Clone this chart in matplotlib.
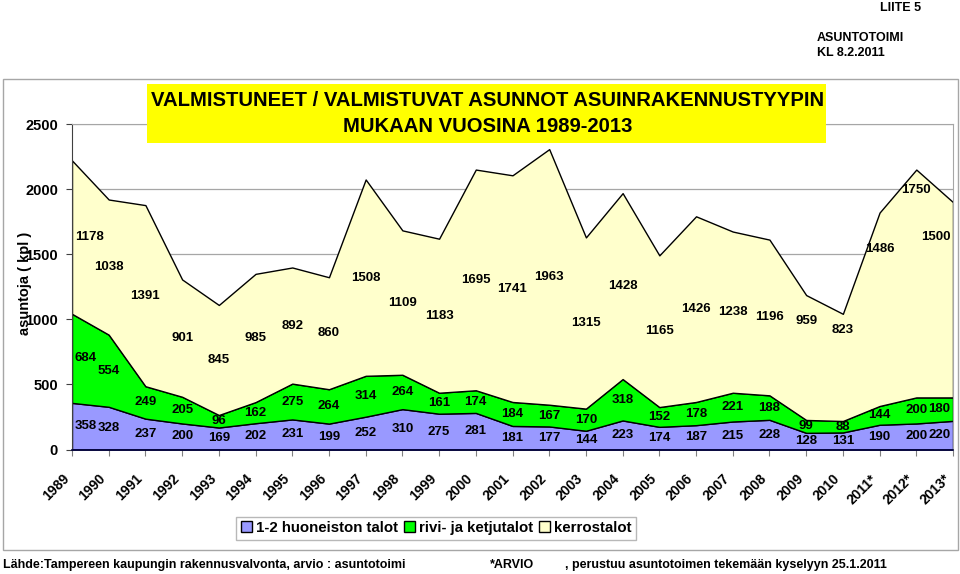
import matplotlib
matplotlib.use("Agg")
import matplotlib.pyplot as plt
from matplotlib.patches import Rectangle, Patch
from matplotlib.transforms import ScaledTranslation
import numpy as np

plt.rcParams['font.family'] = ['Liberation Sans', 'DejaVu Sans']
plt.rcParams['font.weight'] = 'bold'

years = ["1989", "1990", "1991", "1992", "1993", "1994", "1995", "1996", "1997",
         "1998", "1999", "2000", "2001", "2002", "2003", "2004", "2005", "2006",
         "2007", "2008", "2009", "2010", "2011*", "2012*", "2013*"]
omakoti = [358, 328, 237, 200, 169, 202, 231, 199, 252, 310, 275, 281, 181, 177,
           144, 223, 174, 187, 215, 228, 128, 131, 190, 200, 220]
rivi = [684, 554, 249, 205, 96, 162, 275, 264, 314, 264, 161, 174, 184, 167,
        170, 318, 152, 178, 221, 188, 99, 88, 144, 200, 180]
kerros = [1178, 1038, 1391, 901, 845, 985, 892, 860, 1508, 1109, 1183, 1695, 1741,
          1963, 1315, 1428, 1165, 1426, 1238, 1196, 959, 823, 1486, 1750, 1500]
series_names = ["1-2 huoneiston talot", "rivi- ja ketjutalot", "kerrostalot"]
colors = ["#9999ff", "#00ff00", "#ffffcc"]

# label positions that were moved by hand in the original (data units)
top_label_override = {20: 987, 21: 918, 22: 1540, 23: 1993, 24: 1634}

W, H = 960, 574
fig = plt.figure(figsize=(W / 100, H / 100), dpi=100)

def fx(px):
    return px / W

def fy(py):
    return 1 - py / H

ax = fig.add_axes([fx(72), fy(449.5), fx(953) - fx(72), fy(124) - fy(449.5)])
x = np.arange(len(years))
data = [omakoti, rivi, kerros]
ax.stackplot(x, *data, colors=colors, edgecolor="black", linewidth=1.0, zorder=2)
ax.set_xlim(0, len(years) - 1)
ax.set_ylim(0, 2500)
ax.set_yticks(np.arange(0, 2501, 500))
ax.yaxis.grid(True, color="#a6a6a6", linewidth=0.9, zorder=0)
ax.set_axisbelow(True)
for s in ["top", "right"]:
    ax.spines[s].set_color("#a6a6a6")
ax.spines["left"].set_color("#404040")
ax.spines["bottom"].set_color("#000040")
ax.spines["bottom"].set_linewidth(1.2)
ax.spines["bottom"].set_zorder(3)

ax.tick_params(axis="y", direction="out", length=4, color="#404040",
               labelsize=10.5, pad=6)
ax.tick_params(axis="x", direction="out", length=4, color="#808080",
               labelsize=10, pad=12)
ax.set_xticks(x)
ax.set_xticklabels(years, rotation=45, ha="right", va="top",
                   rotation_mode="anchor", fontweight="bold")
shift = ScaledTranslation(-10 / 100, 0, fig.dpi_scale_trans)
for lab in ax.get_xticklabels():
    lab.set_transform(lab.get_transform() + shift)
for lab in ax.get_yticklabels():
    lab.set_fontweight("bold")

# data labels
cum = np.zeros(len(years))
for si, vals in enumerate(data):
    vals = np.array(vals, dtype=float)
    for i, v in enumerate(vals):
        ymid = cum[i] + v / 2
        if si == 2 and i in top_label_override:
            ymid = top_label_override[i]
        if i == 0:
            ha, dx = "left", 2
        elif i == len(years) - 1:
            ha, dx = "right", -2
        else:
            ha, dx = "center", 0
        ax.annotate(f"{int(v)}", (i, ymid), xytext=(dx, 0),
                    textcoords="offset points", ha=ha, va="center",
                    fontsize=9.5, fontweight="bold", zorder=5)
    cum += vals

# outer chart frame
fig.patches.append(Rectangle((fx(3), fy(550)), fx(958) - fx(3), fy(79) - fy(550),
                             transform=fig.transFigure, fill=False,
                             edgecolor="#a6a6a6", linewidth=1.0, zorder=-1))
# title box
fig.patches.append(Rectangle((fx(147), fy(143)), fx(826) - fx(147), fy(84) - fy(143),
                             transform=fig.transFigure, facecolor="#ffff00",
                             edgecolor="none", zorder=5))
fig.text(fx(488), fy(101), "VALMISTUNEET / VALMISTUVAT ASUNNOT ASUINRAKENNUSTYYPIN",
         ha="center", va="center", fontsize=14.6, fontweight="bold", zorder=6)
fig.text(fx(488), fy(127), "MUKAAN VUOSINA 1989-2013",
         ha="center", va="center", fontsize=14.6, fontweight="bold", zorder=6)

fig.text(fx(25), fy(283), "asuntoja ( kpl )", rotation=90, ha="center", va="center",
         fontsize=10.5, fontweight="bold", zorder=6)

fig.text(fx(880), fy(8), "LIITE 5", ha="left", va="center", fontsize=9, fontweight="bold")
fig.text(fx(817), fy(38), "ASUNTOTOIMI", ha="left", va="center", fontsize=9, fontweight="bold")
fig.text(fx(817), fy(53), "KL 8.2.2011", ha="left", va="center", fontsize=9, fontweight="bold")

fig.text(fx(3), fy(565), "Lähde:Tampereen kaupungin rakennusvalvonta, arvio : asuntotoimi",
         ha="left", va="center", fontsize=9, fontweight="bold")
fig.text(fx(490), fy(565), "*ARVIO", ha="left", va="center", fontsize=9, fontweight="bold")
fig.text(fx(565), fy(565), ", perustuu asuntotoimen tekemään kyselyyn 25.1.2011",
         ha="left", va="center", fontsize=9, fontweight="bold")

handles = [Patch(facecolor=c, edgecolor="black", linewidth=1.0) for c in colors]
leg = fig.legend(handles, series_names, loc="center", ncol=3,
                 bbox_to_anchor=(fx(436), fy(528)), frameon=True, fancybox=False,
                 edgecolor="#a6a6a6", fontsize=10.8, handlelength=0.75,
                 handleheight=0.75, handletextpad=0.25, columnspacing=0.4,
                 borderpad=0.3, borderaxespad=0)
for t in leg.get_texts():
    t.set_fontweight("bold")
leg.get_frame().set_linewidth(1.0)

fig.savefig("out.png", dpi=100)
